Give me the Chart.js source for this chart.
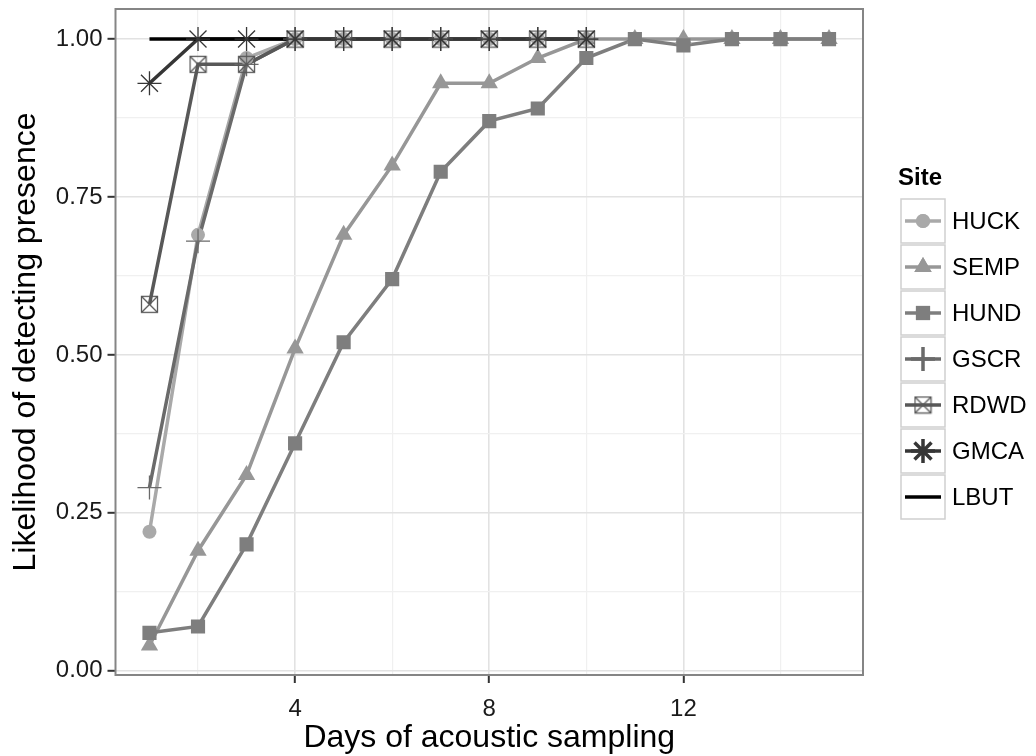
<!DOCTYPE html>
<html>
<head>
<meta charset="utf-8">
<title>Detection likelihood by site</title>
<script src="https://cdn.jsdelivr.net/npm/chart.js@4.4.1/dist/chart.umd.min.js"></script>
<style>
  html, body { margin: 0; padding: 0; background: #fff; }
  #wrap { width: 1036px; height: 756px; }
</style>
</head>
<body>
<div id="wrap"><canvas id="chart" width="1036" height="756"></canvas></div>
<script>
// ---- data ----
const DAYS = [1, 2, 3, 4, 5, 6, 7, 8, 9, 10, 11, 12, 13, 14, 15];
const SITES = ["HUCK", "SEMP", "HUND", "GSCR", "RDWD", "GMCA", "LBUT"];

const HUCK = [0.22, 0.69, 0.97, 1, 1, 1, 1, 1, 1, 1];
const SEMP = [0.04, 0.19, 0.31, 0.51, 0.69, 0.80, 0.93, 0.93, 0.97, 1, 1, 1, 1, 1, 1];
const HUND = [0.06, 0.07, 0.20, 0.36, 0.52, 0.62, 0.79, 0.87, 0.89, 0.97, 1, 0.99, 1, 1, 1];
const GSCR = [0.29, 0.68, 0.96, 1, 1, 1, 1, 1, 1, 1];
const RDWD = [0.58, 0.96, 0.96, 1, 1, 1, 1, 1, 1, 1];
const GMCA = [0.93, 1, 1, 1, 1, 1, 1, 1, 1, 1];
const LBUT = [1, 1, 1, 1];

const SERIES = [HUCK, SEMP, HUND, GSCR, RDWD, GMCA, LBUT];

const X_TICKS = [2, 4, 6, 8, 10, 12, 14];
const X_LABELS = [4, 8, 12];
const Y_TICKS = [0, 0.125, 0.25, 0.375, 0.5, 0.625, 0.75, 0.875, 1];
const Y_LABELS = [0, 0.25, 0.5, 0.75, 1];

const FONT = "'Liberation Sans', Arial, Helvetica, sans-serif";

// square with an X through it (unfilled)
function boxCross(color) {
  const c = document.createElement('canvas');
  c.width = 19; c.height = 19;
  const g = c.getContext('2d');
  g.strokeStyle = color;
  g.lineWidth = 1.3;
  g.strokeRect(1.5, 1.5, 16, 16);
  g.beginPath();
  g.moveTo(1.5, 1.5); g.lineTo(17.5, 17.5);
  g.moveTo(17.5, 1.5); g.lineTo(1.5, 17.5);
  g.stroke();
  return c;
}

// marker look per site (same order as SITES)
const LOOK = [
  { color: '#a9a9a9', style: 'circle',   radius: 7,  border: 0 },
  { color: '#979797', style: 'triangle', radius: 10, border: 0 },
  { color: '#7e7e7e', style: 'rect',     radius: 10, border: 0 },
  { color: '#6a6a6a', style: 'cross',    radius: 12, border: 1.3 },
  { color: '#585858', style: boxCross('#585858'), radius: 9, border: 1 },
  { color: '#363636', style: 'star',     radius: 12, border: 1.3 },
  { color: '#000000', style: null,       radius: 0,  border: 0 }
];

const datasets = [];
SITES.forEach((name, k) => {
  const pts = SERIES[k].map((v, i) => ({ x: DAYS[i], y: v }));
  const look = LOOK[k];
  // lines first (higher order = drawn underneath)
  datasets.push({
    label: name,
    data: pts,
    borderColor: look.color,
    borderWidth: 3.5,
    pointRadius: 0,
    tension: 0,
    fill: false,
    order: 20 - k
  });
  if (look.style) {
    datasets.push({
      label: name + ' pts',
      data: pts,
      showLine: false,
      pointStyle: look.style,
      pointRadius: look.radius,
      pointBackgroundColor: look.color,
      pointBorderColor: look.color,
      pointBorderWidth: look.border,
      order: 10 - k
    });
  }
});

const panelFrame = {
  id: 'panelFrame',
  afterDatasetsDraw(chart) {
    const { ctx, chartArea: a } = chart;
    ctx.save();
    ctx.strokeStyle = '#858585';
    ctx.lineWidth = 2;
    ctx.strokeRect(a.left, a.top, a.right - a.left, a.bottom - a.top);
    ctx.restore();
  }
};

const siteLegend = {
  id: 'siteLegend',
  afterDraw(chart) {
    const ctx = chart.ctx;
    const left = 900, top = 198, w = 46, h = 46;
    ctx.save();
    ctx.fillStyle = '#000';
    ctx.font = 'bold 24px ' + FONT;
    ctx.textBaseline = 'middle';
    ctx.fillText('Site', left - 2, 178);
    ctx.font = '24px ' + FONT;
    SITES.forEach((name, k) => {
      const y0 = top + k * h, cx = left + w / 2, cy = y0 + h / 2;
      const look = LOOK[k];
      ctx.fillStyle = '#fff';
      ctx.fillRect(left, y0, w, h);
      ctx.strokeStyle = '#cfcfcf';
      ctx.lineWidth = 1.5;
      ctx.strokeRect(left + 1, y0 + 1, w - 2, h - 2);
      ctx.strokeStyle = look.color;
      ctx.lineWidth = 3.5;
      ctx.beginPath();
      ctx.moveTo(left + 5, cy);
      ctx.lineTo(left + w - 5, cy);
      ctx.stroke();
      if (look.style) {
        ctx.fillStyle = look.color;
        Chart.helpers.drawPoint(ctx, {
          pointStyle: look.style,
          radius: look.radius,
          borderWidth: look.border,
          rotation: 0
        }, cx, cy);
        if (look.border === 0) ctx.fill();
      }
      ctx.fillStyle = '#000';
      ctx.fillText(name, left + w + 6, cy + 1);
    });
    ctx.restore();
  }
};

new Chart(document.getElementById('chart'), {
  type: 'line',
  data: { datasets },
  plugins: [panelFrame, siteLegend],
  options: {
    responsive: false,
    devicePixelRatio: 1,
    animation: false,
    layout: { autoPadding: false, padding: { top: 9, right: 173, left: 0, bottom: 0 } },
    plugins: { legend: { display: false }, tooltip: { enabled: false } },
    scales: {
      x: {
        type: 'linear',
        min: 0.3,
        max: 15.7,
        afterBuildTicks: s => { s.ticks = X_TICKS.map(v => ({ value: v })); },
        afterFit: s => { s.height = 81; s.paddingLeft = 0; s.paddingRight = 0; },
        border: { display: false },
        grid: {
          color: c => X_LABELS.includes(c.tick.value) ? '#e2e2e2' : '#f0f0f0',
          lineWidth: c => X_LABELS.includes(c.tick.value) ? 1.6 : 1.2,
          tickColor: c => X_LABELS.includes(c.tick.value) ? '#333' : 'rgba(0,0,0,0)',
          tickLength: 8,
          tickWidth: 2
        },
        ticks: {
          autoSkip: false,
          maxRotation: 0,
          padding: 12,
          color: '#1a1a1a',
          font: { family: FONT, size: 24 },
          callback: v => X_LABELS.includes(v) ? String(v) : ''
        },
        title: {
          display: true,
          text: 'Days of acoustic sampling',
          color: '#000',
          font: { family: FONT, size: 32, lineHeight: 1.1 },
          padding: { top: 0, bottom: 0 }
        }
      },
      y: {
        min: -0.0068,
        max: 1.0476,
        afterBuildTicks: s => { s.ticks = Y_TICKS.map(v => ({ value: v })); },
        afterFit: s => { s.width = 115.5; s.paddingTop = 0; s.paddingBottom = 0; },
        border: { display: false },
        grid: {
          color: c => Y_LABELS.includes(c.tick.value) ? '#e2e2e2' : '#f0f0f0',
          lineWidth: c => Y_LABELS.includes(c.tick.value) ? 1.6 : 1.2,
          tickColor: c => Y_LABELS.includes(c.tick.value) ? '#333' : 'rgba(0,0,0,0)',
          tickLength: 8,
          tickWidth: 2
        },
        ticks: {
          autoSkip: false,
          padding: 5,
          color: '#1a1a1a',
          font: { family: FONT, size: 24 },
          callback: v => Y_LABELS.includes(v) ? v.toFixed(2) : ''
        },
        title: {
          display: true,
          text: 'Likelihood of detecting presence',
          color: '#000',
          font: { family: FONT, size: 32, lineHeight: 1.1 },
          padding: { top: 9, bottom: 0 }
        }
      }
    }
  }
});
</script>
</body>
</html>
